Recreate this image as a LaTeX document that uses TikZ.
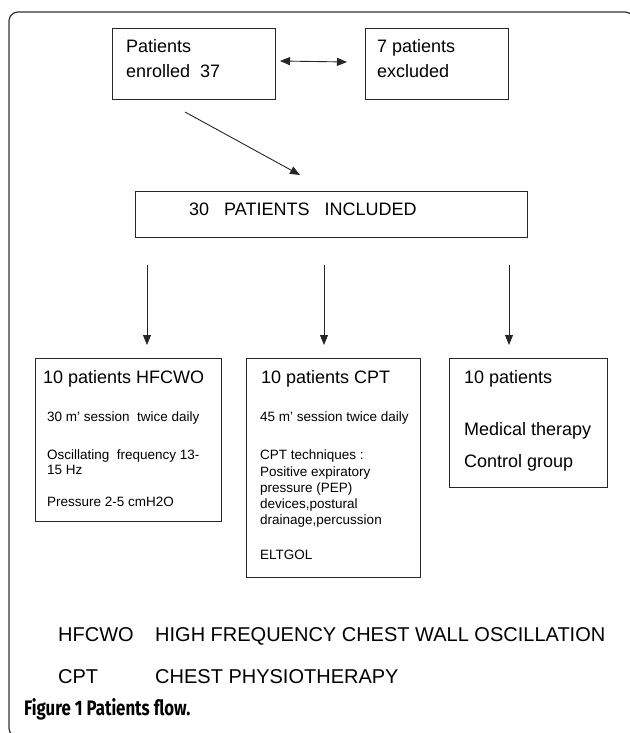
\documentclass[tikz,border=0pt]{standalone}
\usepackage{fontspec}
\setmainfont{Liberation Sans}
\newfontfamily\capfont{Fira Sans}
\usetikzlibrary{arrows.meta}
\begin{document}
\begin{tikzpicture}[x=1pt,y=-1pt,
  box/.style={draw=black!85,line width=0.9pt,rectangle,inner sep=0pt},
  big/.style={inner sep=0pt,anchor=base west,font=\fontsize{18}{22}\selectfont},
  small/.style={inner sep=0pt,anchor=base west,font=\fontsize{13.5}{16}\selectfont},
  legend/.style={inner sep=0pt,anchor=base west,font=\fontsize{20}{24}\selectfont},
  arr/.style={line width=0.9pt,draw=black!85,-{Triangle[length=10pt,width=8pt]}}]
\useasboundingbox (0,0) rectangle (629,733);
% outer frame
\draw[line width=1.2pt,black!80,rounded corners=9pt] (9,12) rectangle (634,737);
% boxes
\node[box,minimum width=163pt,minimum height=71pt] (enr) at (193.5,63.5) {};
\node[box,minimum width=143pt,minimum height=71pt] (exc) at (436.5,63.5) {};
\node[box,minimum width=392pt,minimum height=46pt] (inc) at (331,214) {};
\node[box,minimum width=186pt,minimum height=163pt] (hf) at (128,439.5) {};
\node[box,minimum width=174pt,minimum height=219pt] (cpt) at (333,467.5) {};
\node[box,minimum width=158pt,minimum height=129pt] (ctl) at (528,422.5) {};
% texts
\node[big] (t1) at (126,53) {Patients};
\node[big] (t2) at (126,78) {enrolled\ \ 37};
\node[big] (t3) at (377,53) {7 patients};
\node[big] (t4) at (377,78) {excluded};
\node[big] (t5) at (189,215) {30\ \ \ PATIENTS\ \ \ INCLUDED};
\node[big] (a0) at (43,383) {10 patients HFCWO};
\node[small] (a1) at (47,421) {30 m’ session\ \ twice daily};
\node[small] (a2) at (47,459) {Oscillating\ \ frequency 13-};
\node[small] (a3) at (47,474) {15 Hz};
\node[small] (a4) at (47,506) {Pressure 2-5 cmH2O};
\node[big] (b0) at (261,383) {10 patients CPT};
\node[small] (b1) at (260,421) {45 m’ session twice daily};
\node[small] (b2) at (260,459) {CPT techniques :};
\node[small] (b3) at (260,476) {Positive expiratory};
\node[small] (b4) at (260,492) {pressure (PEP)};
\node[small] (b5) at (260,508) {devices,postural};
\node[small] (b6) at (260,524) {drainage,percussion};
\node[small] (b7) at (260,559) {ELTGOL};
\node[big] (c0) at (464,383) {10 patients};
\node[big] (c1) at (464,435) {Medical therapy};
\node[big] (c2) at (464,467) {Control group};
\node[legend] (l1) at (58,641) {HFCWO};
\node[legend] (l2) at (155,641) {HIGH FREQUENCY CHEST WALL OSCILLATION};
\node[legend] (l3) at (58,683) {CPT};
\node[legend] (l4) at (155,683) {CHEST PHYSIOTHERAPY};
\node[inner sep=0pt,anchor=base west,font=\capfont\bfseries\fontsize{21}{24}\selectfont] (cap) at (24,715) {\scalebox{0.8}[1]{Figure 1 Patients flow.}};
% connector end points
\coordinate (h1) at (280,61);
\coordinate (h2) at (347,62);
\coordinate (d1) at (185,112);
\coordinate (d2) at (300,175);
\coordinate (v1s) at (147,265); \coordinate (v1e) at (147,345);
\coordinate (v2s) at (324,265); \coordinate (v2e) at (324,345);
\coordinate (v3s) at (509,265); \coordinate (v3e) at (509,345);
% connectors
\draw[arr,{Triangle[length=10pt,width=8pt]}-{Triangle[length=10pt,width=8pt]}] (h1) -- (h2);
\draw[arr] (d1) -- (d2);
\draw[arr] (v1s) -- (v1e);
\draw[arr] (v2s) -- (v2e);
\draw[arr] (v3s) -- (v3e);
\end{tikzpicture}
\end{document}
